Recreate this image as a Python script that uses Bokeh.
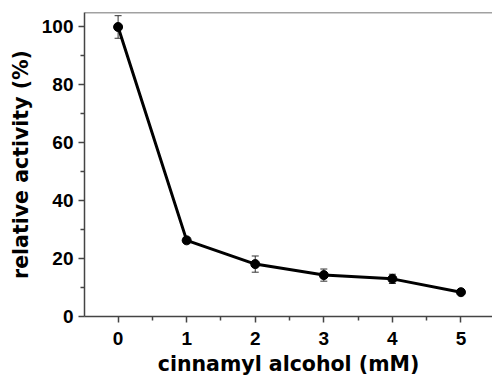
from bokeh.plotting import figure
from bokeh.models import ColumnDataSource, Whisker, TeeHead, Span, FixedTicker
from bokeh.embed import file_html
from bokeh.resources import INLINE

concentration = [0, 1, 2, 3, 4, 5]
activity = [100.0, 26.3, 18.1, 14.3, 13.0, 8.4]
error = [3.9, 1.0, 2.8, 2.1, 1.6, 0.6]
x_ticks = [0, 1, 2, 3, 4, 5]
y_ticks = [0, 20, 40, 60, 80, 100]

src = ColumnDataSource(dict(
    x=concentration, y=activity,
    upper=[a + e for a, e in zip(activity, error)],
    lower=[a - e for a, e in zip(activity, error)],
))

p = figure(width=492, height=378, output_backend="svg", toolbar_location=None,
           x_range=(-0.49, 5.46), y_range=(0, 105),
           min_border_left=84, min_border_right=0, min_border_top=12, min_border_bottom=62)
p.outline_line_color = None
p.grid.grid_line_color = None
p.background_fill_color = "white"
p.border_fill_color = "white"

top = Span(location=105, dimension="width", line_color="#444444", line_width=1.5)
p.add_layout(top)

w = Whisker(source=src, base="x", upper="upper", lower="lower",
            line_color="#333333", line_width=1,
            upper_head=TeeHead(size=7, line_color="#333333", line_width=1),
            lower_head=TeeHead(size=7, line_color="#333333", line_width=1))
p.add_layout(w)

p.line("x", "y", source=src, line_color="black", line_width=3)
p.scatter("x", "y", source=src, size=9, fill_color="black", line_color="black")

for ax in (p.xaxis[0], p.yaxis[0]):
    ax.axis_line_color = "#444444"
    ax.axis_line_width = 1.5
    ax.major_tick_line_color = "#444444"
    ax.minor_tick_line_color = "#444444"
    ax.major_tick_line_width = 1.5
    ax.minor_tick_line_width = 1.5
    ax.major_tick_out = 6
    ax.major_tick_in = 0
    ax.minor_tick_out = 4
    ax.minor_tick_in = 0
    ax.major_label_text_font = "Liberation Sans"
    ax.major_label_text_font_style = "bold"
    ax.major_label_text_font_size = "19px"
    ax.major_label_text_color = "black"
    ax.axis_label_text_font = "DejaVu Sans"
    ax.axis_label_text_font_style = "bold"
    ax.axis_label_text_font_size = "20.5px"
    ax.axis_label_text_color = "black"

p.xaxis[0].ticker = FixedTicker(ticks=x_ticks, minor_ticks=[i + 0.5 for i in range(-1, 6)])
p.yaxis[0].ticker = FixedTicker(ticks=y_ticks, minor_ticks=[10, 30, 50, 70, 90])
p.xaxis[0].axis_label = "cinnamyl alcohol (mM)"
p.yaxis[0].axis_label = "relative activity (%)"
p.xaxis[0].major_label_standoff = 9
p.yaxis[0].major_label_standoff = 5
p.xaxis[0].axis_label_standoff = 4
p.yaxis[0].axis_label_standoff = 6

open("out.html", "w").write(file_html(p, INLINE))
